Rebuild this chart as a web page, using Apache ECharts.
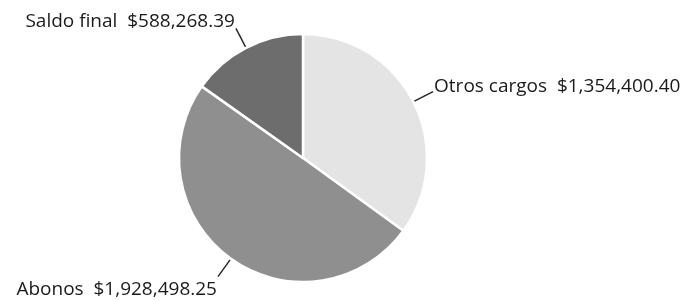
<!DOCTYPE html>
<html><head><meta charset="utf-8">
<script src="https://cdn.jsdelivr.net/npm/echarts@6/dist/echarts.min.js"></script>
<style>html,body{margin:0;padding:0;background:#fff}#c{width:692px;height:301px}</style>
</head><body><div id="c"></div>
<script>
const categories = ['Otros cargos', 'Abonos', 'Saldo final'];
const values = [1354400.40, 1928498.25, 588268.39];
const colors = ['#e4e4e4', '#8f8f8f', '#6d6d6d'];

const fmt = v => '$' + v.toLocaleString('en-US', {minimumFractionDigits: 2, maximumFractionDigits: 2});
const shiftY = [-5, 13, -7];
const chart = echarts.init(document.getElementById('c'));
chart.setOption({
  animation: false,
  series: [{
    type: 'pie',
    center: [303, 158],
    radius: 124,
    startAngle: 90,
    clockwise: true,
    data: categories.map((n, i) => ({name: n, value: values[i], itemStyle: {color: colors[i]}})),
    itemStyle: {borderColor: '#fff', borderWidth: 2.5},
    label: {
      formatter: p => p.name + '  ' + fmt(p.value),
      fontFamily: 'Open Sans', fontSize: 19, color: '#1a1a1a',
      distanceToLabelLine: 1
    },
    labelLine: {length: 22, length2: 0, lineStyle: {color: '#222', width: 1.4}},
    labelLayout: p => ({dy: shiftY[p.dataIndex]})
  }]
});
</script></body></html>
